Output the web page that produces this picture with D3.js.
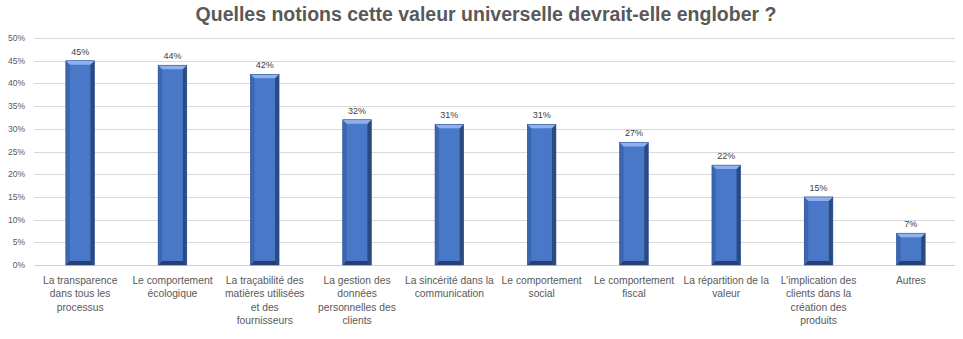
<!DOCTYPE html>
<html>
<head>
<meta charset="utf-8">
<script src="https://cdn.jsdelivr.net/npm/d3@7"></script>
<style>
  body { margin: 0; background: #fff; }
  text { font-family: "Liberation Sans", Arial, sans-serif; }
</style>
</head>
<body>
<div id="chart"></div>
<script>
const title = "Quelles notions cette valeur universelle devrait-elle englober ?";

const categories = [
  ["La transparence", "dans tous les", "processus"],
  ["Le comportement", "écologique"],
  ["La traçabilité des", "matières utilisées", "et des", "fournisseurs"],
  ["La gestion des", "données", "personnelles des", "clients"],
  ["La sincérité dans la", "communication"],
  ["Le comportement", "social"],
  ["Le comportement", "fiscal"],
  ["La répartition de la", "valeur"],
  ["L'implication des", "clients dans la", "création des", "produits"],
  ["Autres"]
];

const values = [0.45, 0.44, 0.42, 0.32, 0.31, 0.31, 0.27, 0.22, 0.15, 0.07];

const yTicks = [0, 0.05, 0.1, 0.15, 0.2, 0.25, 0.3, 0.35, 0.4, 0.45, 0.5];

const width = 963, height = 339;
const margin = { top: 38, right: 6, bottom: 74, left: 34 };

const svg = d3.select("#chart")
  .append("svg")
  .attr("width", width)
  .attr("height", height);

const x = d3.scaleBand()
  .domain(d3.range(categories.length))
  .range([margin.left, width - margin.right])
  .paddingInner(0.69)
  .paddingOuter(0.345);

const y = d3.scaleLinear()
  .domain([0, 0.5])
  .range([height - margin.bottom, margin.top]);

// title
svg.append("text")
  .attr("x", 486)
  .attr("y", 21)
  .attr("text-anchor", "middle")
  .attr("font-size", 19.5)
  .attr("font-weight", "bold")
  .attr("fill", "#595959")
  .text(title);

// grid
svg.append("g")
  .selectAll("line")
  .data(yTicks)
  .join("line")
  .attr("x1", margin.left)
  .attr("x2", width - margin.right - 2)
  .attr("y1", d => Math.round(y(d)) + 0.5)
  .attr("y2", d => Math.round(y(d)) + 0.5)
  .attr("stroke", d => d === 0 ? "#d0d0d0" : "#d9d9d9")
  .attr("stroke-width", 1);

// y labels
svg.append("g")
  .selectAll("text")
  .data(yTicks)
  .join("text")
  .attr("x", 25)
  .attr("y", d => y(d) + 3)
  .attr("text-anchor", "end")
  .attr("font-size", 8.5)
  .attr("fill", "#595959")
  .text(d3.format(".0%"));

// bars with bevel
const bw = x.bandwidth();
const bev = 4;
const bars = svg.append("g")
  .selectAll("g")
  .data(values)
  .join("g")
  .attr("transform", (d, i) => `translate(${x(i)},${y(d)})`);

bars.append("rect")
  .attr("width", bw)
  .attr("height", d => y(0) - y(d))
  .attr("fill", "#4a78c9");

// left edge
bars.append("path")
  .attr("d", d => {
    const h = y(0) - y(d);
    return `M0,0 L${bev},${bev} L${bev},${h - bev} L0,${h} Z`;
  })
  .attr("fill", "#3d66b0");

// right edge
bars.append("path")
  .attr("d", d => {
    const h = y(0) - y(d);
    return `M${bw},0 L${bw - bev},${bev} L${bw - bev},${h - bev} L${bw},${h} Z`;
  })
  .attr("fill", "#2b4a80");

// bottom edge
bars.append("path")
  .attr("d", d => {
    const h = y(0) - y(d);
    return `M0,${h} L${bev},${h - bev} L${bw - bev},${h - bev} L${bw},${h} Z`;
  })
  .attr("fill", "#263f6e");

// top edge
bars.append("path")
  .attr("d", `M0,0 L${bw},0 L${bw - bev},${bev} L${bev},${bev} Z`)
  .attr("fill", "#8eb0ec");

bars.append("rect")
  .attr("width", bw)
  .attr("height", d => y(0) - y(d))
  .attr("fill", "none")
  .attr("stroke", "#2f5597")
  .attr("stroke-width", 0.6);

// value labels
svg.append("g")
  .selectAll("text")
  .data(values)
  .join("text")
  .attr("x", (d, i) => x(i) + bw / 2)
  .attr("y", d => y(d) - 6)
  .attr("text-anchor", "middle")
  .attr("font-size", 9)
  .attr("fill", "#404040")
  .text(d3.format(".0%"));

// category labels
const cat = svg.append("g")
  .selectAll("text")
  .data(categories)
  .join("text")
  .attr("x", (d, i) => x(i) + bw / 2)
  .attr("y", 284)
  .attr("text-anchor", "middle")
  .attr("font-size", 10.3)
  .attr("fill", "#595959");

cat.selectAll("tspan")
  .data(d => d)
  .join("tspan")
  .attr("x", function () { return d3.select(this.parentNode).attr("x"); })
  .attr("dy", (d, i) => i === 0 ? 0 : 13.3)
  .text(d => d);
</script>
</body>
</html>
